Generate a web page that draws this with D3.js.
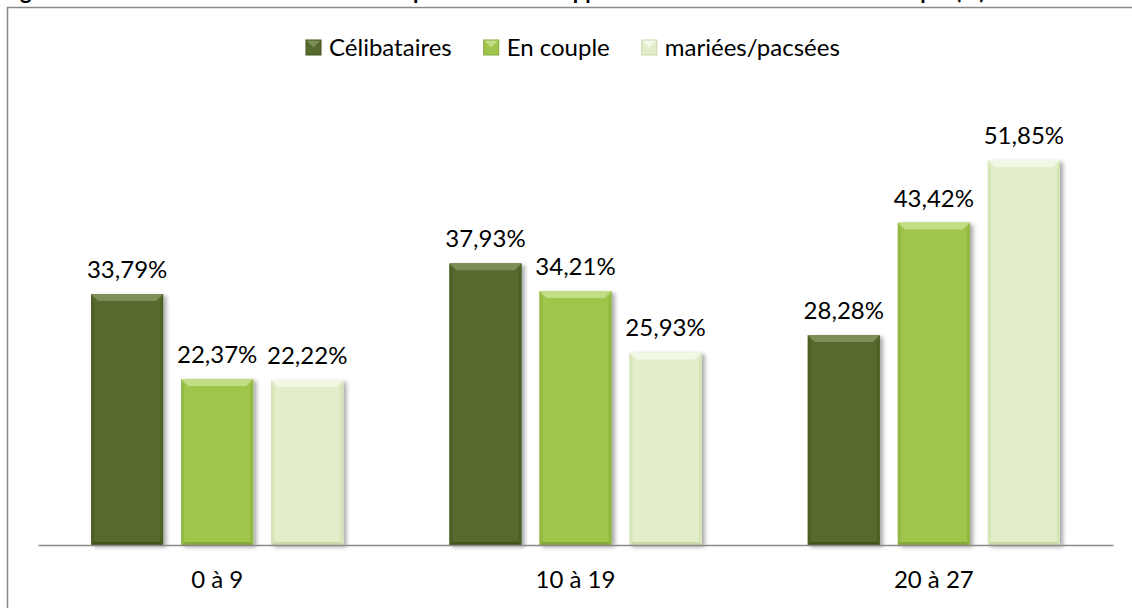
<!DOCTYPE html>
<html>
<head>
  <meta charset="utf-8">
  <title>Répartition selon la situation de couple</title>
  <script src="https://d3js.org/d3.v7.min.js"></script>
  <style>
    body { margin: 0; background: #fff; }
    text { font-family: Lato, "Open Sans", sans-serif; fill: #000; }
  </style>
</head>
<body>
  <script>
    // data
    const categories = ["0 à 9", "10 à 19", "20 à 27"];
    const seriesNames = ["Célibataires", "En couple", "mariées/pacsées"];
    const celibataires = [33.79, 37.93, 28.28];
    const enCouple = [22.37, 34.21, 43.42];
    const mariees = [22.22, 25.93, 51.85];
    const values = [celibataires, enCouple, mariees];
    const titleText = "Figure 7 : Nombre de rencontres réalisées par le biais des applications selon la situation de couple (%)";

    // face / top bevel / side / bottom colours per series
    const palette = [
      {face: "#566a2e", top: "#7d8f56", side: "#4c5f27", bottom: "#43531f"},
      {face: "#9fc54c", top: "#c3dc86", side: "#93b844", bottom: "#86a93c"},
      {face: "#e2eeca", top: "#f2f8e6", side: "#d6e4b8", bottom: "#c9d8aa"}
    ];

    const W = 1132, H = 608;
    const svg = d3.select("body").append("svg")
      .attr("width", W).attr("height", H);

    const defs = svg.append("defs");
    defs.append("filter").attr("id", "shadow")
      .attr("x", "-20%").attr("y", "-10%").attr("width", "140%").attr("height", "120%")
      .append("feDropShadow")
      .attr("dx", 3).attr("dy", 2).attr("stdDeviation", 2)
      .attr("flood-color", "#000").attr("flood-opacity", 0.35);

    // title, cut off by the top of the picture as in the original
    svg.append("text")
      .attr("x", 2).attr("y", -1)
      .style("font-weight", "bold")
      .style("font-size", "22px")
      .text(titleText);

    // chart frame
    svg.append("rect")
      .attr("x", 7.5).attr("y", 7.5)
      .attr("width", W + 20).attr("height", H + 20)
      .attr("fill", "none").attr("stroke", "#8a8a8a").attr("stroke-width", 1.5);

    const plot = {left: 38, right: 1113, top: 99.5, bottom: 545};

    const x0 = d3.scaleBand().domain(categories).range([plot.left, plot.right]);
    const x1 = d3.scaleBand().domain(d3.range(seriesNames.length))
      .range([0, x0.bandwidth()]).paddingInner(0.2).paddingOuter(0.59);
    const y = d3.scaleLinear().domain([0, 60]).range([plot.bottom, plot.top]);

    // bars
    const bt = 7, bs = 3, bb = 3;
    categories.forEach(function(cat, ci) {
      values.forEach(function(serie, si) {
        const v = serie[ci];
        const bx = x0(cat) + x1(si), bw = x1.bandwidth();
        const by = y(v), bh = y(0) - y(v);
        const c = palette[si];
        const g = svg.append("g").attr("filter", "url(#shadow)");
        g.append("rect").attr("x", bx).attr("y", by).attr("width", bw).attr("height", bh)
          .attr("fill", c.face);
        g.append("polygon").attr("fill", c.top)
          .attr("points", [[bx, by], [bx + bw, by], [bx + bw - bt, by + bt], [bx + bt, by + bt]].join(" "));
        g.append("polygon").attr("fill", c.side)
          .attr("points", [[bx, by], [bx + bs, by + bt], [bx + bs, by + bh - bb], [bx, by + bh]].join(" "));
        g.append("polygon").attr("fill", c.side)
          .attr("points", [[bx + bw, by], [bx + bw - bs, by + bt], [bx + bw - bs, by + bh - bb], [bx + bw, by + bh]].join(" "));
        g.append("polygon").attr("fill", c.bottom)
          .attr("points", [[bx, by + bh], [bx + bs, by + bh - bb], [bx + bw - bs, by + bh - bb], [bx + bw, by + bh]].join(" "));

        svg.append("text")
          .attr("x", bx + bw / 2).attr("y", by - 16)
          .attr("text-anchor", "middle")
          .style("font-size", "24px")
          .text(v.toFixed(2).replace(".", ",") + "%");
      });
    });

    // category axis
    const xAxis = svg.append("g")
      .attr("transform", `translate(0,${plot.bottom})`)
      .call(d3.axisBottom(x0).tickSize(0).tickPadding(26));
    xAxis.select(".domain").attr("stroke", "#8a8a8a").attr("stroke-width", 1.5);
    xAxis.selectAll("text").style("font-size", "24px").attr("fill", "#000");

    // legend
    const legend = svg.append("g");
    let lx = 306;
    seriesNames.forEach(function(name, si) {
      const c = palette[si];
      const sq = 15, sy = 40;
      legend.append("rect").attr("x", lx).attr("y", sy).attr("width", sq).attr("height", sq)
        .attr("fill", c.face);
      legend.append("polygon").attr("fill", c.top)
        .attr("points", [[lx, sy], [lx + sq, sy], [lx + sq / 2, sy + sq / 2]].join(" "));
      legend.append("rect").attr("x", lx).attr("y", sy).attr("width", sq).attr("height", sq)
        .attr("fill", "none").attr("stroke", c.bottom).attr("stroke-width", 1);
      const t = legend.append("text")
        .attr("x", lx + sq + 8).attr("y", 56)
        .style("font-size", "24px")
        .text(name);
      lx = lx + sq + 8 + t.node().getComputedTextLength() + 32;
    });
  </script>
</body>
</html>
